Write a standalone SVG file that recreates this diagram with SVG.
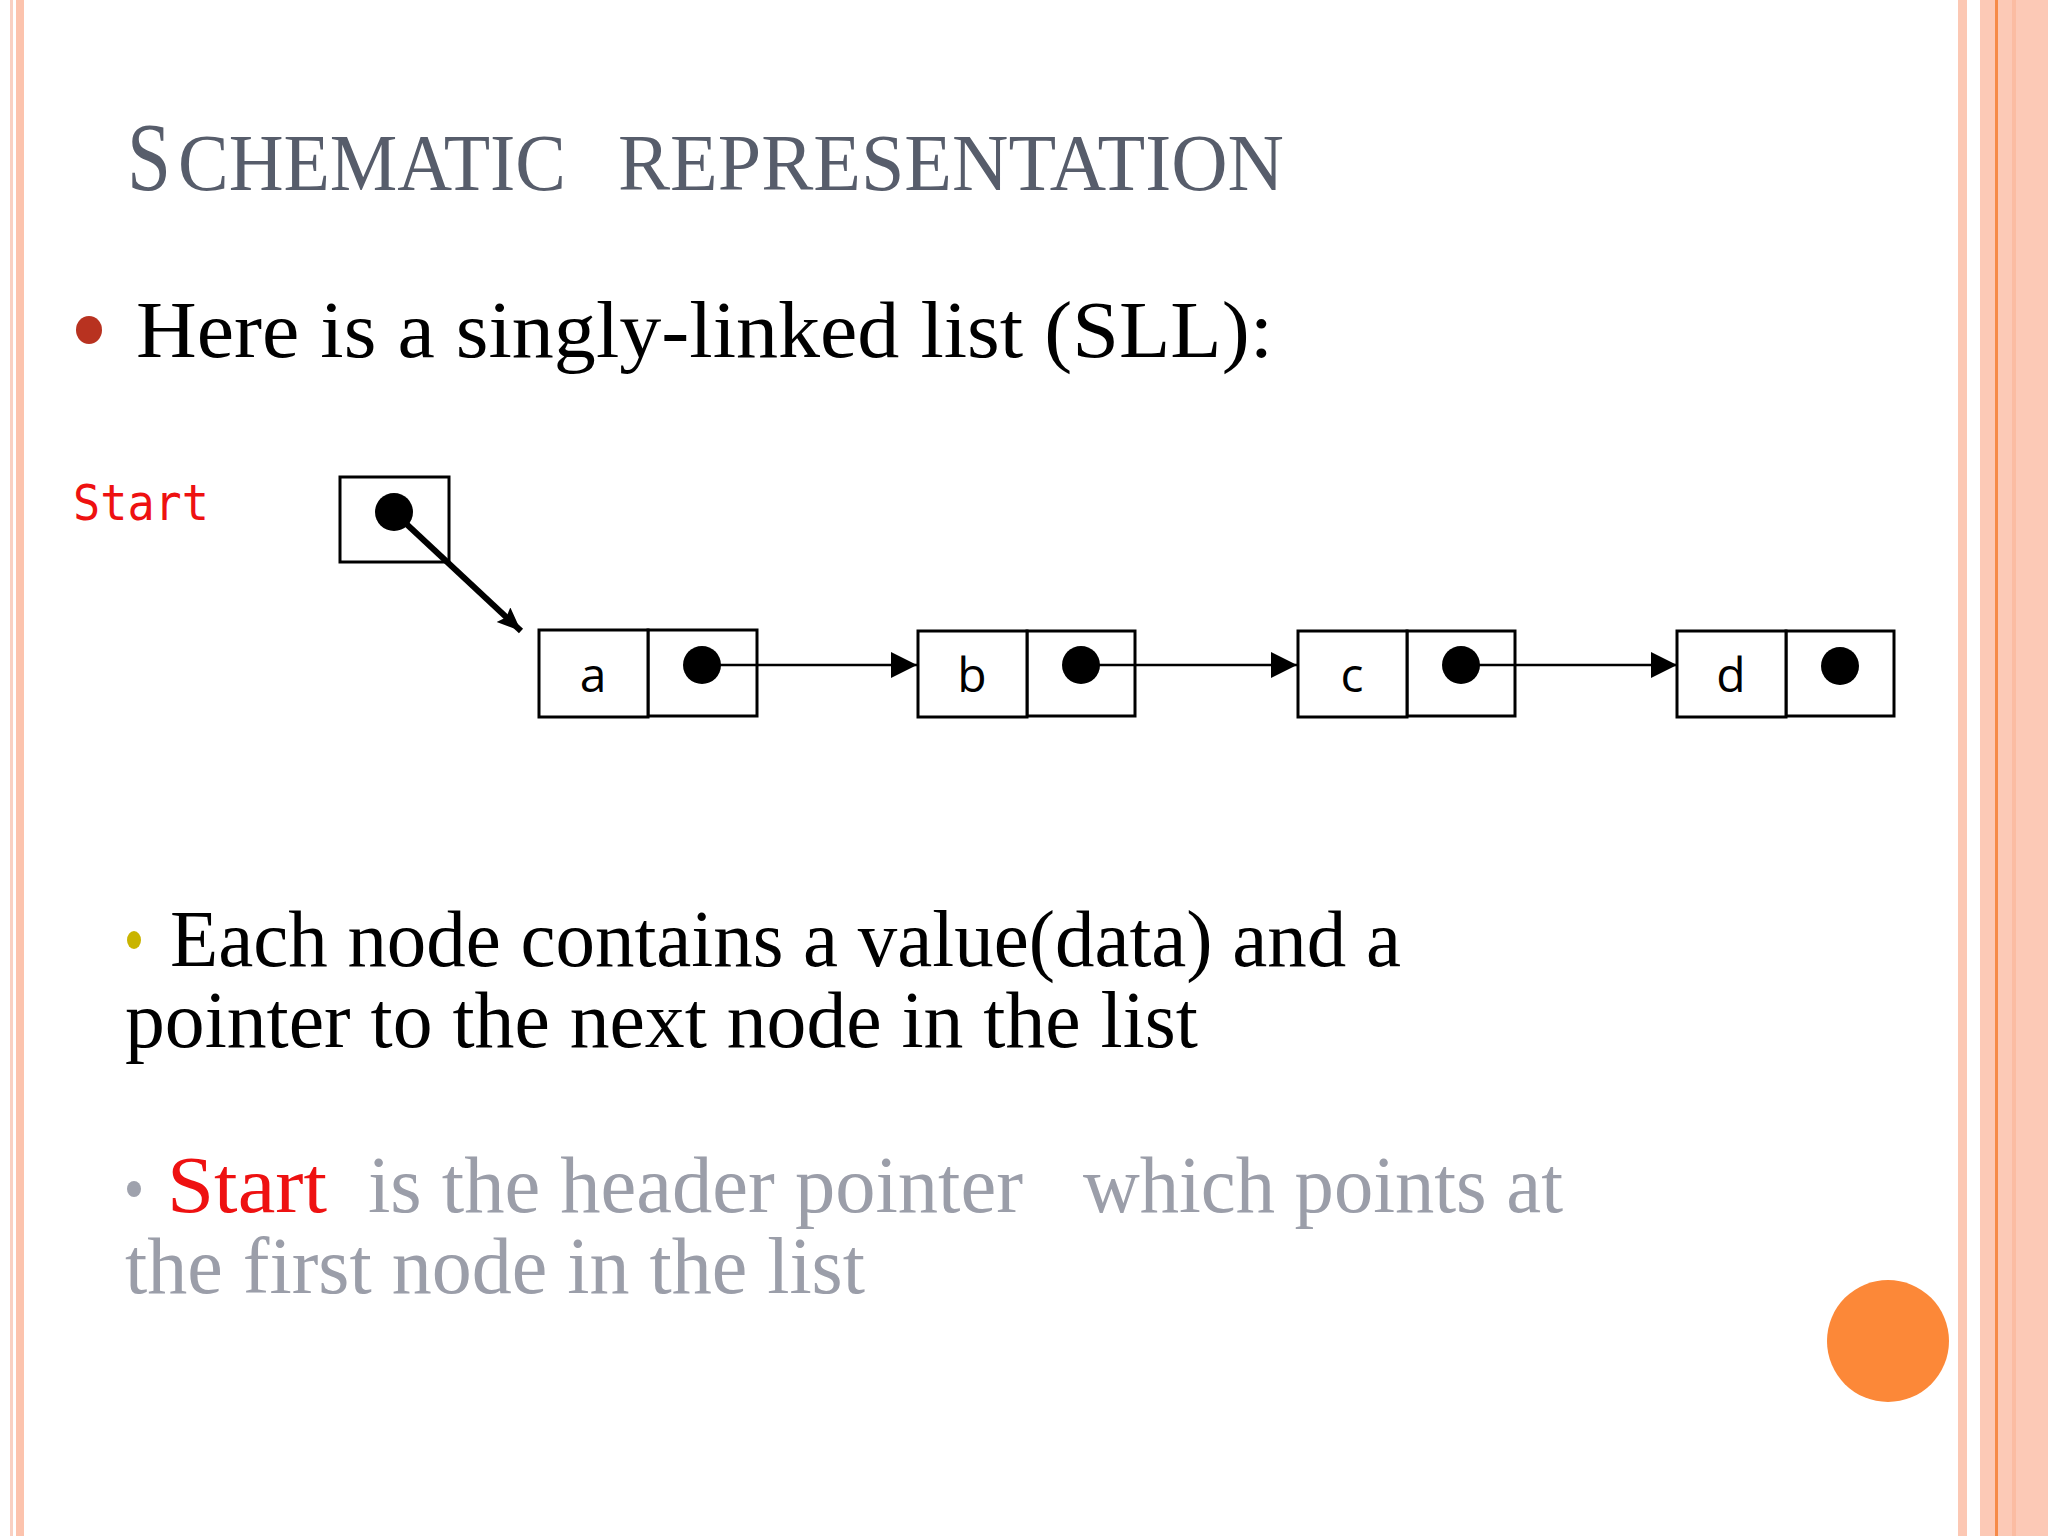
<svg xmlns="http://www.w3.org/2000/svg" width="2048" height="1536" viewBox="0 0 2048 1536">
<style>
.title{font-family:"Liberation Serif","Times New Roman",serif;fill:#575d6b}
.body{font-family:"Liberation Serif","Times New Roman",serif;font-size:80px}
.black{fill:#000}
.gray{fill:#9b9ea9}
.red{fill:#ee1111}
.lbl{font-family:"Open Sans","DejaVu Sans",sans-serif;font-size:48px;fill:#000;text-anchor:middle}
.mono{font-family:"DejaVu Sans Mono","Liberation Mono",monospace;font-size:50px;fill:#ee1111}
.cell{fill:#fff;stroke:#000;stroke-width:3}
.dot{fill:#000}
.link{stroke:#000;stroke-width:2.5;fill:none}
</style>
<defs>
<marker id="tri" markerUnits="userSpaceOnUse" markerWidth="28" markerHeight="28" refX="26" refY="13" orient="auto">
<path d="M0,0 L26,13 L0,26 Z" fill="#000"/>
</marker>
<marker id="tri2" markerUnits="userSpaceOnUse" markerWidth="26" markerHeight="22" refX="24" refY="10" orient="auto">
<path d="M0,0 L24,10 L0,20 L4,10 Z" fill="#000"/>
</marker>
</defs>
<rect width="2048" height="1536" fill="#fff"/>
<!-- borders -->
<rect x="10" y="0" width="3" height="1536" fill="#f9d0c2"/>
<rect x="16" y="0" width="8" height="1536" fill="#fcc3ad"/>
<rect x="1958" y="0" width="9" height="1536" fill="#fcc8b4"/>
<rect x="1980" y="0" width="68" height="1536" fill="#fcc9b6"/>
<rect x="2012" y="0" width="4" height="1536" fill="#fbbca2"/>
<rect x="1995" y="0" width="3" height="1536" fill="#f68a48"/>
<circle cx="1888" cy="1341" r="61" fill="#fc8838"/>
<!-- title -->
<text class="title" y="190" font-size="80"><tspan x="127" font-size="98" textLength="44" lengthAdjust="spacingAndGlyphs">S</tspan><tspan x="178" textLength="388" lengthAdjust="spacingAndGlyphs">CHEMATIC</tspan><tspan x="618" textLength="666" lengthAdjust="spacingAndGlyphs">REPRESENTATION</tspan></text>
<!-- bullet 1 -->
<ellipse cx="89" cy="330" rx="13" ry="14" fill="#b83220"/>
<text class="body black" x="136" y="357" font-size="84" textLength="1137" lengthAdjust="spacingAndGlyphs">Here is a singly-linked list (SLL):</text>
<!-- diagram -->
<text class="mono" x="73" y="520" textLength="136" lengthAdjust="spacingAndGlyphs">Start</text>
<g id="start">
<rect class="cell" x="340" y="477" width="109" height="85"/>
<circle class="dot" cx="394" cy="512" r="19"/>
</g>
<g id="node-a">
<rect class="cell" x="648" y="630" width="109" height="86"/>
<rect class="cell" x="539" y="630" width="109" height="87" stroke-width="3.5"/>
<text class="lbl" x="593" y="692">a</text>
<circle class="dot" cx="702" cy="665" r="19"/>
</g>
<g id="node-b">
<rect class="cell" x="1027" y="631" width="108" height="85"/>
<rect class="cell" x="918" y="631" width="109" height="86" stroke-width="3.5"/>
<text class="lbl" x="972" y="692">b</text>
<circle class="dot" cx="1081" cy="665" r="19"/>
</g>
<g id="node-c">
<rect class="cell" x="1407" y="631" width="108" height="85"/>
<rect class="cell" x="1298" y="631" width="109" height="86" stroke-width="3.5"/>
<text class="lbl" x="1352" y="692">c</text>
<circle class="dot" cx="1461" cy="665" r="19"/>
</g>
<g id="node-d">
<rect class="cell" x="1786" y="631" width="108" height="85"/>
<rect class="cell" x="1677" y="631" width="109" height="86" stroke-width="3.5"/>
<text class="lbl" x="1731" y="692">d</text>
<circle class="dot" cx="1840" cy="666" r="19"/>
</g>
<g id="connectors">
<line x1="400" y1="518" x2="521" y2="631" stroke="#000" stroke-width="6" marker-end="url(#tri2)"/>
<line class="link" x1="702" y1="665" x2="917" y2="665" marker-end="url(#tri)"/>
<line class="link" x1="1081" y1="665" x2="1297" y2="665" marker-end="url(#tri)"/>
<line class="link" x1="1461" y1="665" x2="1677" y2="665" marker-end="url(#tri)"/>
</g>
<!-- bullet 2 -->
<ellipse cx="134" cy="940" rx="7" ry="9" fill="#c9b400"/>
<text class="body black" x="170" y="966" textLength="1231" lengthAdjust="spacingAndGlyphs">Each node contains a value(data) and a</text>
<text class="body black" x="125" y="1047" textLength="1073" lengthAdjust="spacingAndGlyphs">pointer to the next node in the list</text>
<!-- bullet 3 -->
<ellipse cx="134" cy="1189" rx="7" ry="8" fill="#9fa2ad"/>
<text class="body gray" y="1212"><tspan class="red" x="167" textLength="160" lengthAdjust="spacingAndGlyphs">Start</tspan><tspan x="368" textLength="655" lengthAdjust="spacingAndGlyphs">is the header pointer</tspan><tspan x="1083" textLength="480" lengthAdjust="spacingAndGlyphs">which points at</tspan></text>
<text class="body gray" x="125" y="1293" textLength="740" lengthAdjust="spacingAndGlyphs">the first node in the list</text>
</svg>
